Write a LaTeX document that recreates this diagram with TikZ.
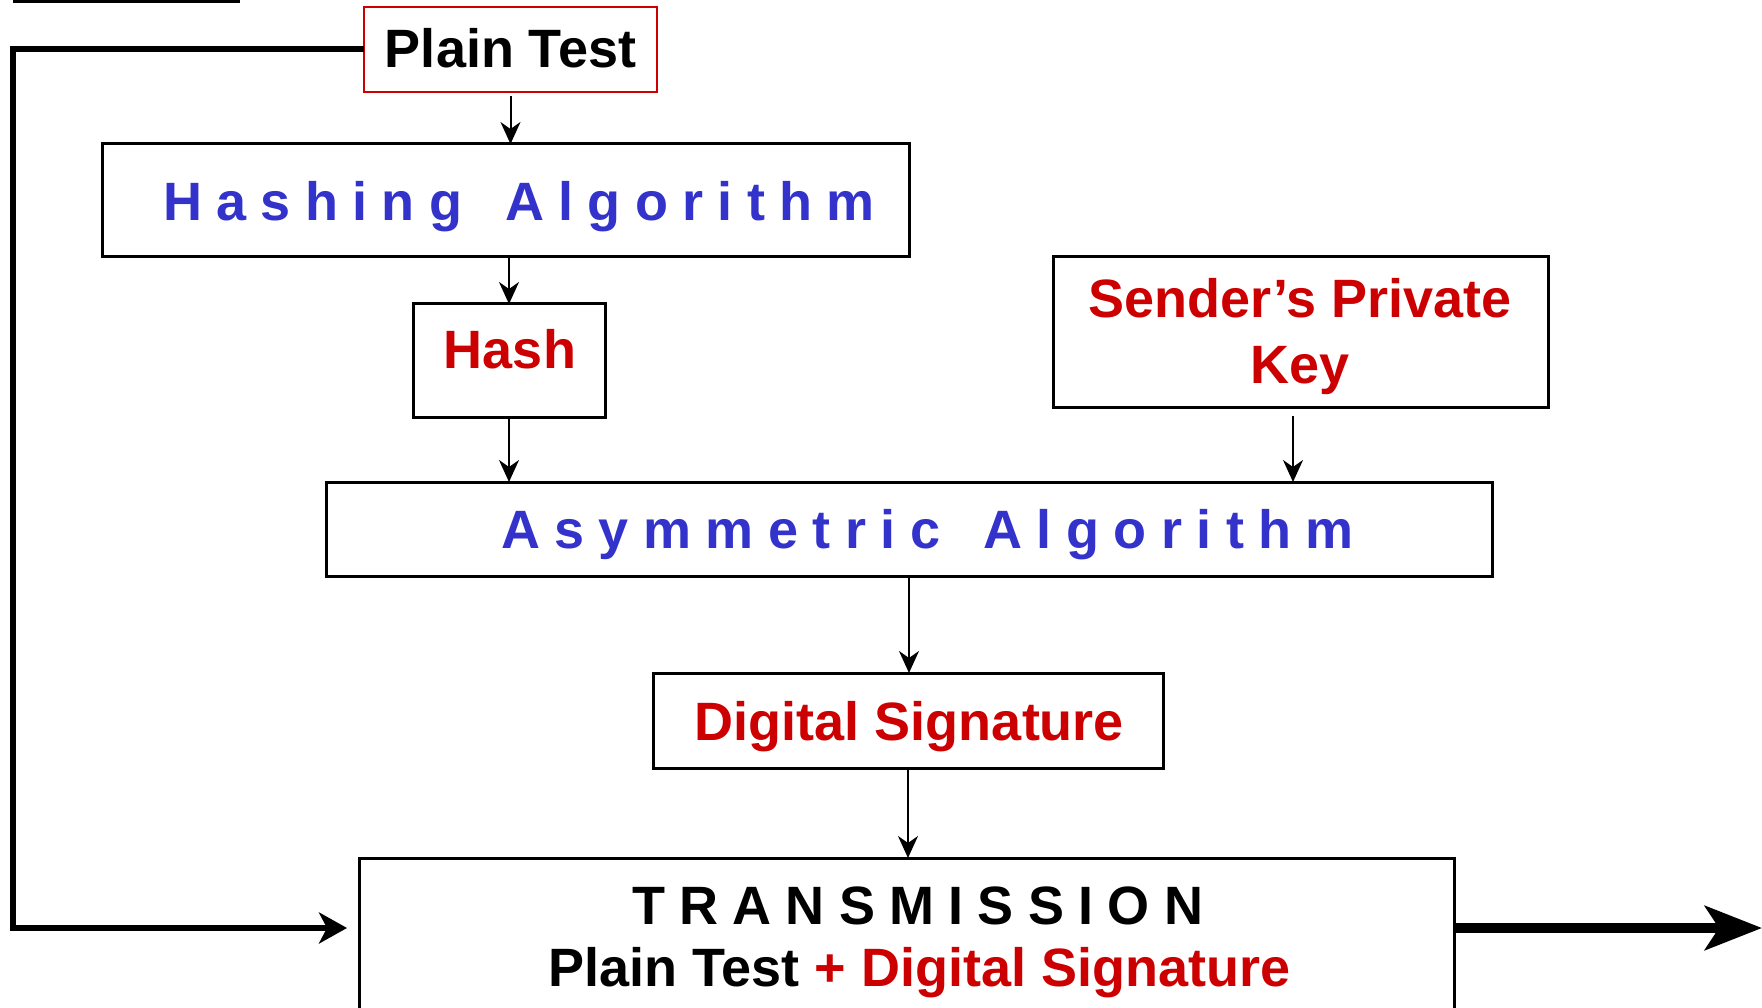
\documentclass[tikz,border=0pt]{standalone}
\usepackage{fontspec}
\setmainfont{Liberation Sans}
\usepackage{graphicx}
\usetikzlibrary{arrows.meta}
\definecolor{tblue}{HTML}{3333CC}
\definecolor{tred}{HTML}{CC0000}
\begin{document}
\begin{tikzpicture}[x=1pt,y=-1pt,
  box/.style={draw=black, line width=3pt, rectangle, inner sep=0pt, outer sep=0pt},
  txt/.style={inner sep=0pt, outer sep=0pt, anchor=base, font=\fontsize{54}{65}\selectfont\bfseries},
  arr/.style={line width=2pt, -{Stealth[length=22pt,width=20pt,inset=7pt]}},
  thickarr/.style={line width=6pt, -{Stealth[length=28pt,width=31pt,inset=8pt]}},
  bigarr/.style={line width=10pt, -{Stealth[length=57pt,width=44pt,inset=14pt]}}]
\path[use as bounding box, clip] (0,0) rectangle (1762,1008);
\fill[white] (0,0) rectangle (1762,1008);

% top-left fragment
\fill[black] (13,0) rectangle (240,3);

% boxes
\node[box, draw=tred, line width=2pt, minimum width=293pt, minimum height=85pt] (plain) at (510.5,49.5) {};
\node[box, minimum width=807pt, minimum height=113pt] (hashing) at (505.5,200.5) {};
\node[box, minimum width=192pt, minimum height=113pt] (hash) at (509,360.5) {};
\node[box, minimum width=495pt, minimum height=150pt] (sender) at (1300.5,332) {};
\node[box, minimum width=1166pt, minimum height=94pt] (asym) at (909,529) {};
\node[box, minimum width=510pt, minimum height=95pt] (digsig) at (908,720.5) {};
\node[box, minimum width=1095pt, minimum height=200pt] (trans) at (906.5,958) {};

% texts
\node[txt] (tplain) at (510.5,68) {Plain Test};
\node[txt, text=tblue] (thashing) at (519,221) {\makebox[712pt][s]{H\hfil a\hfil s\hfil h\hfil i\hfil n\hfil g\hfil\hfil\hfil A\hfil l\hfil g\hfil o\hfil r\hfil i\hfil t\hfil h\hfil m}};
\node[txt, text=tred] (thash) at (510,368) {Hash};
\node[txt, text=tred] (tsender1) at (1300,318) {Sender’s Private};
\node[txt, text=tred] (tsender2) at (1300,383) {Key};
\node[txt, text=tblue] (tasym) at (927.5,548) {\makebox[853pt][s]{A\hfil s\hfil y\hfil m\hfil m\hfil e\hfil t\hfil r\hfil i\hfil c\hfil\hfil\hfil A\hfil l\hfil g\hfil o\hfil r\hfil i\hfil t\hfil h\hfil m}};
\node[txt, text=tred] (tdigsig) at (909.5,740) {Digital Signature};
\node[txt] (ttrans1) at (917.5,924) {\makebox[571pt][s]{T\hfil R\hfil A\hfil N\hfil S\hfil M\hfil I\hfil S\hfil S\hfil I\hfil O\hfil N}};
\node[txt] (ttrans2) at (919.5,986) {Plain Test {\color{tred}+ Digital Signature}};

% connectors
\draw[arr, shorten <=4pt] (plain.south) -- (plain.south |- hashing.north);
\draw[arr] (hash.north |- hashing.south) -- (hash.north);
\draw[arr] (hash.south) -- (hash.south |- asym.north);
\draw[arr, shorten <=9pt] ([xshift=-7.5pt]sender.south) -- ([xshift=-7.5pt]sender.south |- asym.north);
\draw[arr] (asym.south) -- (asym.south |- digsig.north);
\draw[arr] (digsig.south) -- (digsig.south |- trans.north);

\coordinate (corner) at (13,928);
\coordinate (out) at (1762,928);
\draw[thickarr, shorten >=12pt] (plain.west) -| (corner) -- (corner -| trans.west);
\draw[bigarr] (out -| trans.east) -- (out);
\end{tikzpicture}
\end{document}
